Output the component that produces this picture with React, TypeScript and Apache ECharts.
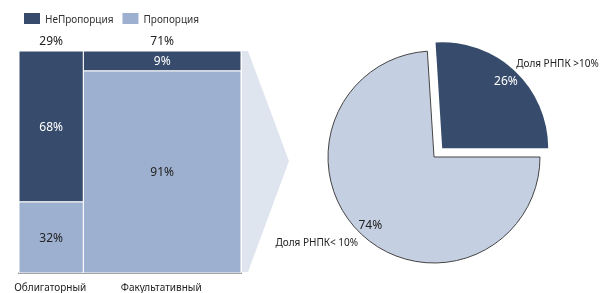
import React, { useEffect, useRef } from "react";
import * as echarts from "echarts";

const categories = ["Облигаторный", "Факультативный"];
const categoryShares = [29, 71];
const nonProportionalShares = [68, 9];
const proportionalShares = [32, 91];
const legendNames = ["НеПропорция", "Пропорция"];
const pieNames = ["Доля РНПК >10%", "Доля РНПК< 10%"];
const pieValues = [26, 74];

const DARK = "#374c6c";
const LIGHT = "#9db0cf";
const PIE_LIGHT = "#c5cfe2";
const ARROW = "#dfe5ef";
const FONT = "Noto Sans";

export default function App() {
  const ref = useRef<HTMLDivElement>(null);
  useEffect(() => {
    if (!ref.current) return;
    const chart = echarts.init(ref.current, undefined, { renderer: "svg" });

    const starts: number[] = [];
    let acc = 0;
    categoryShares.forEach((s) => {
      starts.push(acc);
      acc += s;
    });
    const darkData = categories.map((c, i) => [
      starts[i],
      starts[i] + categoryShares[i],
      100 - nonProportionalShares[i],
      100,
      nonProportionalShares[i],
    ]);
    const lightData = categories.map((c, i) => [
      starts[i],
      starts[i] + categoryShares[i],
      0,
      proportionalShares[i],
      proportionalShares[i],
    ]);
    const labelData = categories.map((c, i) => [
      starts[i],
      starts[i] + categoryShares[i],
      categoryShares[i],
      c,
    ]);

    const makeRender = (fill: string, textColor: string) => (params: any, api: any) => {
      const p0 = api.coord([api.value(0), api.value(3)]);
      const p1 = api.coord([api.value(1), api.value(2)]);
      return {
        type: "group",
        children: [
          {
            type: "rect",
            shape: { x: p0[0], y: p0[1], width: p1[0] - p0[0], height: p1[1] - p0[1] },
            style: { fill, stroke: "#ffffff", lineWidth: 1 },
          },
          {
            type: "text",
            x: (p0[0] + p1[0]) / 2,
            y: (p0[1] + p1[1]) / 2,
            style: {
              text: api.value(4) + "%",
              fill: textColor,
              font: `12px '${FONT}'`,
              align: "center",
              verticalAlign: "middle",
            },
          },
        ],
      };
    };

    const pieTotal = pieValues.reduce((a, b) => a + b, 0);
    const startAngle = (pieValues[0] / pieTotal) * 360;
    const center = [434, 157];

    chart.setOption({
      animation: false,
      textStyle: { fontFamily: FONT },
      legend: {
        data: legendNames,
        left: 24,
        top: 13,
        padding: 0,
        itemWidth: 16,
        itemHeight: 11,
        itemGap: 9,
        icon: "rect",
        textStyle: { fontSize: 10, color: "#333", fontFamily: FONT },
        selectedMode: false,
      },
      grid: { left: 19, top: 51, width: 222, bottom: 20 },
      xAxis: {
        type: "value",
        min: 0,
        max: 100,
        axisLine: { show: true, onZero: false, lineStyle: { color: "#111", width: 1.5 } },
        axisTick: { show: false },
        axisLabel: { show: false },
        splitLine: { show: false },
      },
      yAxis: {
        type: "value",
        min: 0,
        max: 100,
        show: false,
      },
      graphic: [
        {
          type: "polygon",
          z: -1,
          shape: {
            points: [
              [242, 51],
              [248, 51],
              [289, 161],
              [248, 272],
              [242, 272],
            ],
          },
          style: { fill: ARROW },
        },
      ],
      series: [
        {
          type: "custom",
          name: legendNames[0],
          itemStyle: { color: DARK },
          renderItem: makeRender(DARK, "#ffffff"),
          data: darkData,
          silent: true,
        },
        {
          type: "custom",
          name: legendNames[1],
          itemStyle: { color: LIGHT },
          renderItem: makeRender(LIGHT, "#222222"),
          data: lightData,
          silent: true,
        },
        {
          type: "custom",
          name: "labels",
          silent: true,
          renderItem: (params: any, api: any) => {
            const mid = (api.value(0) + api.value(1)) / 2;
            const top = api.coord([mid, 100]);
            const bottom = api.coord([mid, 0]);
            return {
              type: "group",
              children: [
                {
                  type: "text",
                  x: top[0],
                  y: top[1] - 11,
                  style: {
                    text: api.value(2) + "%",
                    fill: "#222",
                    font: `12px '${FONT}'`,
                    align: "center",
                    verticalAlign: "middle",
                  },
                },
                {
                  type: "text",
                  x: bottom[0] - 1,
                  y: bottom[1] + 14,
                  style: {
                    text: api.value(3),
                    fill: "#222",
                    font: `10px '${FONT}'`,
                    align: "center",
                    verticalAlign: "middle",
                  },
                },
              ],
            };
          },
          data: labelData,
        },
        {
          type: "pie",
          center,
          radius: 106,
          startAngle,
          clockwise: true,
          selectedMode: "single",
          selectedOffset: 12,
          silent: true,
          emphasis: { disabled: true },
          label: {
            show: true,
            position: "outside",
            formatter: "{b}",
            fontSize: 10,
            color: "#222",
            fontFamily: FONT,
            overflow: "none",
          },
          labelLine: { show: false, length: 2, length2: 0 },
          labelLayout: (p: any) => {
            if (p.dataIndex === 0) {
              return { dx: -5, dy: -7 };
            }
            return { dx: 3, dy: 6 };
          },
          data: pieNames.map((n, i) => ({
            name: n,
            value: pieValues[i],
            selected: i === 0,
            itemStyle:
              i === 0
                ? { color: DARK, borderColor: DARK, borderWidth: 0 }
                : { color: PIE_LIGHT, borderColor: "#444", borderWidth: 1 },
          })),
        },
        {
          type: "pie",
          center,
          radius: [74, 106],
          startAngle,
          clockwise: true,
          selectedMode: "single",
          selectedOffset: 12,
          silent: true,
          emphasis: { disabled: true },
          label: {
            show: true,
            position: "inside",
            formatter: "{c}%",
            fontSize: 12,
            fontFamily: FONT,
          },
          labelLine: { show: false },
          data: pieNames.map((n, i) => ({
            name: n,
            value: pieValues[i],
            selected: i === 0,
            itemStyle: { color: "rgba(0,0,0,0)", borderWidth: 0 },
            label: { color: i === 0 ? "#ffffff" : "#222222" },
          })),
        },
      ],
    });
    return () => chart.dispose();
  }, []);
  return (
    <div
      ref={ref}
      style={{ width: 600, height: 293, position: "fixed", left: 0, top: 0 }}
    />
  );
}
